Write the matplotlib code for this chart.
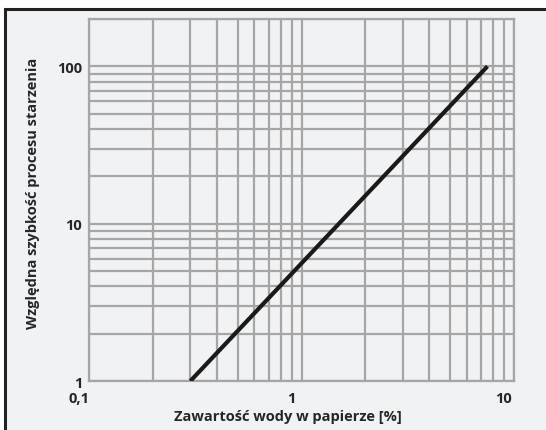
import numpy as np
import matplotlib
matplotlib.use("Agg")
import matplotlib.pyplot as plt
import matplotlib.transforms as mtransforms
from matplotlib.patches import Rectangle
from matplotlib.ticker import FixedLocator, LogLocator, NullFormatter

# dane
woda = [0.3, 7.5]          # zawartość wody w papierze [%]
szybkosc = [1.0, 100.0]    # względna szybkość procesu starzenia
x_ticks = [0.1, 1, 10]
x_labels = ["0,1", "1", "10"]
y_ticks = [1, 10, 100]
y_labels = ["1", "10", "100"]

plt.rcParams['font.family'] = ['Open Sans', 'DejaVu Sans']
bg = '#f1f2f4'
grid_c = '#a6a6a6'
txt = '#262626'

fig = plt.figure(figsize=(5.46, 4.31), dpi=100)
fig.patch.set_facecolor('white')

# ramka wokół całego wykresu
W, H = 546, 431
fig.patches.append(Rectangle((5 / W, -0.05), 1.1, (H - 10) / H + 0.05,
                             transform=fig.transFigure, facecolor=bg,
                             edgecolor='#222222', linewidth=2.2, zorder=-10))

ax = fig.add_axes([89 / W, 1 - 382 / H, (514 - 89) / W, (382 - 20) / H])
ax.set_facecolor(bg)
ax.set_xscale('log')
ax.set_yscale('log')
ax.set_xlim(0.1, 10)
ax.set_ylim(1, 200)

ax.xaxis.set_major_locator(FixedLocator(x_ticks))
ax.yaxis.set_major_locator(FixedLocator(y_ticks))
ax.xaxis.set_minor_locator(LogLocator(base=10, subs=np.arange(2, 10)))
ax.yaxis.set_minor_locator(LogLocator(base=10, subs=np.arange(2, 10)))
ax.xaxis.set_minor_formatter(NullFormatter())
ax.yaxis.set_minor_formatter(NullFormatter())
ax.set_xticklabels(x_labels)
ax.set_yticklabels(y_labels)

ax.grid(True, which='both', color=grid_c, linewidth=1.6)
for s in ax.spines.values():
    s.set_color(grid_c)
    s.set_linewidth(1.6)
ax.tick_params(which='both', length=0)
ax.tick_params(axis='x', pad=7, labelsize=10.5, labelcolor=txt)
ax.tick_params(axis='y', pad=5, labelsize=10.5, labelcolor=txt)
for lab in ax.get_xticklabels() + ax.get_yticklabels():
    lab.set_fontweight('bold')
# etykiety osi x lekko przesunięte w lewo, jak na oryginale
offset = mtransforms.ScaledTranslation(-10 / 100, 0, fig.dpi_scale_trans)
for lab in ax.get_xticklabels():
    lab.set_transform(lab.get_transform() + offset)

ax.plot(woda, szybkosc, color='#1a1a1a', linewidth=3, solid_capstyle='butt',
        zorder=5)

ax.set_xlabel('Zawartość wody w papierze [%]', fontsize=10.5,
              fontweight='bold', color=txt)
ax.xaxis.set_label_coords(0.468, -0.077)
ax.set_ylabel('Względna szybkość procesu starzenia', fontsize=10.5,
              fontweight='bold', color=txt)
ax.yaxis.set_label_coords(-0.115, 0.52)

fig.savefig('out.png', dpi=100, facecolor=fig.get_facecolor())
